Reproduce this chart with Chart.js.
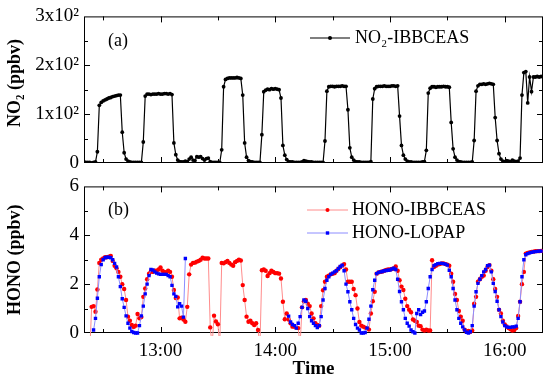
<!DOCTYPE html>
<html>
<head>
<meta charset="utf-8">
<script src="https://cdn.jsdelivr.net/npm/chart.js@4.4.1/dist/chart.umd.min.js"></script>
<style>
  html, body { margin: 0; padding: 0; background: #fff; }
  #wrap { position: relative; width: 550px; height: 381px; }
  canvas { position: absolute; left: 0; }
  #top { top: 0; }
  #bottom { top: 170px; }
</style>
</head>
<body>
<div id="wrap">
  <canvas id="top" width="550" height="180"></canvas>
  <canvas id="bottom" width="550" height="211"></canvas>
</div>
<script>
// times are minutes after 12:00, one reading per minute from the start value
const no2Start = 20;
const no2Values = [
  2, 1, 1, 1, 0, 1, 2, 23, 118,
  124, 127, 129, 131, 133, 134, 136, 137, 138, 139, 139, 63, 21,
  8, 4, 2, 1, 1, 1, 1, 1, 1, 43, 137,
  141, 141, 140, 141, 141, 141, 142, 141, 141, 142, 142, 141, 142, 140, 41,
  17, 6, 3, 2, 2,
  4, 3, 8, 12, 6, 5, 13, 12, 13, 9, 6, 9, 10, 3,
  1, 1, 1, 1, 1, 27, 156,
  171, 173, 174, 174, 174, 174, 175, 174, 173, 139, 41,
  12, 5, 3, 2, 1, 1, 1, 1, 58, 146,
  149, 151, 150, 152, 151, 152, 151, 150, 133, 36,
  16, 7, 3, 2, 2, 1, 1, 1, 1, 2, 5, 4, 3, 2, 2, 1, 1, 1, 1, 1, 1,
  45, 147, 156,
  157, 157, 156, 157, 157, 157, 158, 157, 157, 109, 31,
  12, 6, 3, 2, 2, 1, 1, 1, 1, 1, 3, 131, 152,
  156, 157, 157, 157, 158, 157, 157, 157, 158, 158, 157, 158, 96, 36,
  16, 8, 4, 2, 2, 1, 1, 1, 1, 1, 2, 3, 26, 143, 153,
  156, 156, 155, 156, 156, 156, 157, 156, 156, 155, 83, 29,
  12, 6, 3, 2, 1, 1, 1, 1, 1, 2, 46, 147, 158,
  161, 161, 162, 161, 162, 163, 162, 161, 93, 46,
  19, 8, 4, 3, 5, 4, 3, 6, 4, 3, 4, 10,
  139, 185, 187, 123, 176, 146, 176, 176, 177, 176, 177
];

const ibbStart = 23;
const ibbValues = [
  -0.8, 1.07, 1.1, 0.87, 1.78, 2.87, 3.0, 3.05, 3.1, 3.1, 3.12, 3.15,
  2.95, 2.75, 2.65, 2.5, 2.3, 2.0, 1.8, 1.35, 0.67, 0.5, 0.33, 0.25, 0.3, 0.78, 0.6, 0.65,
  1.48, 1.82, 2.2, 2.43, 2.53, 2.5, 2.55, 2.55, 2.6, 2.68, 2.55, 2.5, 2.48, 2.55, 2.5, 2.3,
  1.76, 1.43, 1.45, 0.6, 0.63, 0.55, 0.46, 1.07, 2.4, 2.8, 2.87, 2.88, 2.92, 2.95, 3.0, 3.08, 3.05, 3.05,
  3.05, 0.23, -0.5, 0.71, 0.47, 0.36, -0.5, 2.87,
  2.85, 2.9, 2.95, 2.87, 2.8, 2.75, 2.9, 2.95, 3.0, 2.97,
  1.96, 1.35, 0.67, 0.46, 0.5, 0.4, 0.33, 0.4, 0.12, -0.5, 2.57,
  2.6, 2.55, 2.33, 2.45, 2.55, 2.5, 2.45, 2.45, 2.43, 2.23,
  1.28, 0.56, 0.8, 0.55, 0.4, 0.26, 0.26, 0.22, 0.2, -0.5,
  1.05, 1.3, 1.35, 1.2, 1.1, 0.8, 0.6, 0.4, 0.33, 0.3,
  1.1, 1.75, 2.1, 2.3, 2.35, 2.4, 2.42, 2.45, 2.55, 2.62, 2.7, 2.75, 2.82, 2.6,
  2.1, 2.1, 2.1, 1.8, 1.55, 1.0, 0.45, 0.3, 0.26, 0.22, 0.2, 0.14,
  0.8, 1.3, 1.69, 2.43, 2.48, 2.5, 2.52, 2.55, 2.58, 2.6, 2.6, 2.62, 2.64, 2.72,
  2.55, 2.16, 1.9, 1.76, 1.4, 1.1, 0.95, 0.85, 0.55, 0.5, 0.45, 0.3, 0.28, 0.14, 0.1, 0.14, 0.1, 0.1,
  2.98, 2.7, 2.75, 2.8, 2.82, 2.85, 2.85, 2.82, 2.8, 2.75,
  2.43, 2.1, 1.6, 1.35, 0.9, 0.67, 0.5, 0.14, 0.05, 0.08, 0.05, 0.1,
  1.2, 1.48, 2.1, 2.2, 2.3, 2.35, 2.55, 2.7, 2.78, 2.55, 2.2, 1.8, 1.48,
  0.95, 0.8, 0.5, 0.35, 0.27, 0.2, 0.15, 0.1, 0.12, 0.2,
  0.7, 1.28, 2.0, 2.5, 3.25, 3.28, 3.3, 3.32, 3.33, 3.35, 3.35, 3.35, 3.36
];

// LOPAP has a gap between 13:13 and 14:07
const lopapStart1 = 25;
const lopapValues1 = [
  0.12, 0.6, 1.42, 2.3, 2.8, 3.0, 3.08, 3.1, 3.1, 3.08, 3.0, 2.85,
  2.7, 2.3, 1.9, 1.4, 1.05, 0.7, 0.4, 0.2, 0.06, 0.02, 0, 0,
  0.3, 0.7, 1.1, 1.6, 2.0, 2.35, 2.6, 2.58, 2.5, 2.45, 2.42, 2.4,
  2.4, 2.4, 2.4, 2.35, 2.3, 1.95, 1.6, 1.5, 1.07, 1.2, 1.1, 0.65, 3.05
];
const lopapStart2 = 127;
const lopapValues2 = [
  0.69, 0.45, 0.35, 0.3, 0.2, 0.4, 0.67, 1.05, 1.35, 1.3, 1.0, 0.67, 0.5, 0.4, 0.3, 0.22, 0.3,
  0.67, 1.35, 1.82, 2.16, 2.3, 2.4, 2.45, 2.5, 2.55, 2.64, 2.72, 2.78,
  2.55, 2.0, 1.69, 1.28, 0.95, 0.6, 0.35, 0.2, 0.12, 0, 0, 0.02,
  0.2, 0.56, 1.1, 1.77, 2.16, 2.43, 2.48, 2.5, 2.52, 2.55, 2.56, 2.57, 2.58, 2.62, 2.65, 2.6,
  2.2, 1.7, 1.28, 0.95, 0.6, 0.4, 0.28, 0.12, 0.05, 0, 0.8, 0.95, 0.75, 0.85, 0.9,
  1.28, 1.82, 2.3, 2.6, 2.75, 2.8, 2.84, 2.85, 2.85, 2.84, 2.82, 2.78,
  2.57, 2.3, 1.82, 1.35, 0.95, 0.6, 0.4, 0.25, 0.12, 0.03, 0, 0.05, 0.3,
  1.1, 1.69, 2.03, 2.2, 2.35, 2.5, 2.6, 2.75, 2.78, 2.5, 2.03, 1.7, 1.3,
  0.95, 0.67, 0.45, 0.3, 0.25, 0.23, 0.23, 0.25, 0.25, 0.28, 0.6, 1.28,
  2.3, 3.0, 3.2, 3.25, 3.28, 3.3, 3.32, 3.33, 3.34, 3.35, 3.35
];

const timeTicks = [60, 120, 180, 240];
const timeLabels = ['13:00', '14:00', '15:00', '16:00'];
const no2Ticks = [0, 100, 200, 300];
const no2Labels = ['0', '1x10²', '2x10²', '3x10²'];
const honoTicks = [0, 2, 4, 6];
const honoLabels = ['0', '2', '4', '6'];

const serif = '"Liberation Serif", "Times New Roman", serif';

function toPoints(start, values) {
  return values.map((v, i) => ({ x: start + i, y: v }));
}

const lopapPoints = toPoints(lopapStart1, lopapValues1)
  .concat([{ x: lopapStart1 + lopapValues1.length, y: null }])
  .concat(toPoints(lopapStart2, lopapValues2));

// frame with inward ticks on all four sides, legend and panel label
const framePlugin = {
  id: 'framePlugin',
  beforeDatasetsDraw(chart, args, o) {
    const { ctx, chartArea: a, scales: { x, y } } = chart;
    ctx.save();
    ctx.strokeStyle = '#000';
    ctx.lineWidth = 1;
    ctx.strokeRect(a.left + 0.5, a.top + 0.5, a.right - a.left - 1, a.bottom - a.top - 1);
    ctx.beginPath();
    for (let v = 30; v < x.max; v += 30) {
      const px = Math.round(x.getPixelForValue(v)) + 0.5;
      const len = v % 60 === 0 ? 6 : 4;
      ctx.moveTo(px, a.bottom); ctx.lineTo(px, a.bottom - len);
      ctx.moveTo(px, a.top); ctx.lineTo(px, a.top + len);
    }
    for (let v = y.min + o.yMinor; v < y.max; v += o.yMinor) {
      const py = Math.round(y.getPixelForValue(v)) + 0.5;
      const len = Math.abs(v % o.yMajor) < 1e-6 ? 6 : 4;
      ctx.moveTo(a.left, py); ctx.lineTo(a.left + len, py);
      ctx.moveTo(a.right, py); ctx.lineTo(a.right - len, py);
    }
    ctx.stroke();
    ctx.restore();
  },
  afterDraw(chart, args, o) {
    const { ctx } = chart;
    ctx.save();
    ctx.fillStyle = '#000';
    ctx.font = '18px ' + serif;
    ctx.textBaseline = 'middle';
    ctx.fillText(o.panel, o.panelX, o.panelY);
    o.items.forEach(it => {
      ctx.strokeStyle = it.lineColor;
      ctx.lineWidth = it.lineWidth;
      ctx.beginPath();
      ctx.moveTo(o.x1, it.y); ctx.lineTo(o.x2, it.y);
      ctx.stroke();
      const cx = (o.x1 + o.x2) / 2;
      ctx.fillStyle = it.pointColor;
      if (it.pointStyle === 'rect') ctx.fillRect(cx - 1.7, it.y - 1.7, 3.4, 3.4);
      else { ctx.beginPath(); ctx.arc(cx, it.y, 2, 0, Math.PI * 2); ctx.fill(); }
      ctx.fillStyle = '#000';
      ctx.fillText(it.text, o.textX, it.y);
    });
    ctx.restore();
  }
};

function xScale(show) {
  return {
    type: 'linear', min: 20, max: 260, display: show,
    afterBuildTicks: s => { s.ticks = timeTicks.map(v => ({ value: v })); },
    afterFit: s => { if (show) s.height = 48; },
    grid: { display: false, drawTicks: false },
    border: { display: false },
    ticks: {
      padding: 7, color: '#000', font: { family: serif, size: 19 },
      callback: v => timeLabels[timeTicks.indexOf(v)]
    },
    title: {
      display: show, text: 'Time', color: '#000',
      font: { family: serif, size: 19, weight: 'bold' }, padding: { top: 0, bottom: 1 }
    }
  };
}

function yScale(max, ticks, labels, title) {
  return {
    type: 'linear', min: 0, max: max,
    afterBuildTicks: s => { s.ticks = ticks.map(v => ({ value: v })); },
    afterFit: s => { s.width = 84; },
    grid: { display: false, drawTicks: false },
    border: { display: false },
    ticks: {
      padding: 5, color: '#000', font: { family: serif, size: 19 },
      callback: v => labels[ticks.indexOf(v)]
    },
    title: {
      display: true, text: title, color: '#000',
      font: { family: serif, size: 18, weight: 'bold' }, padding: { top: 5, bottom: 0 }
    }
  };
}

new Chart(document.getElementById('top'), {
  type: 'line',
  data: {
    datasets: [{
      label: 'NO₂-IBBCEAS',
      data: toPoints(no2Start, no2Values),
      borderColor: '#000', backgroundColor: '#000', borderWidth: 1.2,
      pointRadius: 1.9, pointBorderWidth: 0, pointStyle: 'circle',
      tension: 0
    }]
  },
  options: {
    responsive: false, animation: false, devicePixelRatio: 1,
    layout: { padding: { left: 0, right: 7, top: 16, bottom: 17 } },
    scales: {
      x: xScale(false),
      // leading spaces lift the title above the panel centre as in the original
      y: yScale(300, no2Ticks, no2Labels, '\u00a0\u00a0\u00a0NO₂ (ppbv)')
    },
    plugins: {
      legend: { display: false }, tooltip: { enabled: false },
      framePlugin: {
        yMinor: 50, yMajor: 100, panel: '(a)', panelX: 108, panelY: 41,
        x1: 310, x2: 350, textX: 355,
        items: [{ text: 'NO₂-IBBCEAS', y: 38, lineColor: '#000', lineWidth: 1.2, pointColor: '#000', pointStyle: 'circle' }]
      }
    }
  },
  plugins: [framePlugin]
});

new Chart(document.getElementById('bottom'), {
  type: 'line',
  data: {
    datasets: [{
      label: 'HONO-LOPAP',
      data: lopapPoints, order: 0,
      borderColor: '#8c8cff', backgroundColor: '#0000ff', borderWidth: 1,
      pointRadius: 2.4, pointBorderWidth: 0, pointStyle: 'rect',
      spanGaps: false, tension: 0, clip: { left: 0, right: 0, top: 0, bottom: 3 }
    }, {
      label: 'HONO-IBBCEAS',
      data: toPoints(ibbStart, ibbValues), order: 1,
      borderColor: '#ff8c8c', backgroundColor: '#ff0000', borderWidth: 1,
      pointRadius: 2.2, pointBorderWidth: 0, pointStyle: 'circle',
      tension: 0, clip: { left: 0, right: 0, top: 0, bottom: 3 }
    }]
  },
  options: {
    responsive: false, animation: false, devicePixelRatio: 1,
    layout: { padding: { left: 0, right: 7, top: 16, bottom: 0 } },
    scales: { x: xScale(true), y: yScale(6, honoTicks, honoLabels, 'HONO (ppbv)') },
    plugins: {
      legend: { display: false }, tooltip: { enabled: false },
      framePlugin: {
        yMinor: 1, yMajor: 2, panel: '(b)', panelX: 108, panelY: 40,
        x1: 307, x2: 348, textX: 352,
        items: [
          { text: 'HONO-IBBCEAS', y: 40, lineColor: '#ff8c8c', lineWidth: 1, pointColor: '#ff0000', pointStyle: 'circle' },
          { text: 'HONO-LOPAP', y: 63, lineColor: '#8c8cff', lineWidth: 1, pointColor: '#0000ff', pointStyle: 'rect' }
        ]
      }
    }
  },
  plugins: [framePlugin]
});
</script>
</body>
</html>
